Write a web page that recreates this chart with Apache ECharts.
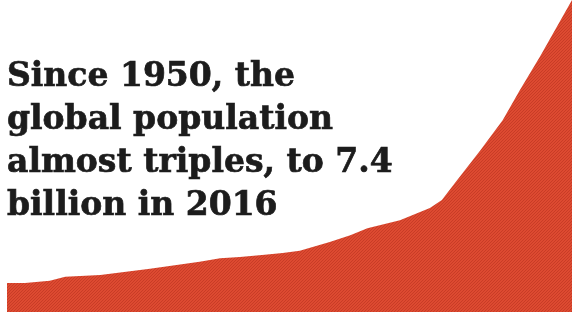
<!DOCTYPE html>
<html>
<head>
<meta charset="utf-8">
<script src="https://cdn.jsdelivr.net/npm/echarts@6/dist/echarts.min.js"></script>
<style>
  html, body { margin: 0; padding: 0; background: #fff; }
  #chart { width: 573px; height: 313px; }
</style>
</head>
<body>
<div id="chart"></div>
<script>
// values (world population, billions, shape of the red area)
const years = [1950, 1952.1, 1955.0, 1956.8, 1960.9, 1966.7, 1972.5, 1974.9, 1977.2, 1980.1,
  1982.2, 1984.2, 1987.7, 1990.1, 1992.1, 1995.9, 1999.4, 2000.8, 2002.3, 2005.3,
  2007.9, 2009.9, 2012.3, 2016];
const population = [2.50, 2.50, 2.54, 2.61, 2.64, 2.75, 2.87, 2.93, 2.95, 2.99,
  3.02, 3.06, 3.21, 3.33, 3.45, 3.59, 3.80, 3.94, 4.23, 4.80,
  5.32, 5.84, 6.43, 7.40];
const headline = ['Since 1950, the', 'global population', 'almost triples, to 7.4', 'billion in 2016'];

// hatched red fill
const makeHatch = () => {
  const c = document.createElement('canvas');
  c.width = 6; c.height = 6;
  const ctx = c.getContext('2d');
  ctx.fillStyle = '#dd4a31';
  ctx.fillRect(0, 0, 6, 6);
  ctx.fillStyle = '#c83c26';
  for (let i = 0; i < 6; i++) {
    for (let j = 0; j < 6; j++) {
      if ((i + j) % 3 === 0) ctx.fillRect(i, j, 1, 1);
    }
  }
  return c;
};

const myChart = echarts.init(document.getElementById('chart'));

const option = {
  animation: false,
  grid: { left: 7, right: 1, top: 0, bottom: 1 },
  title: {
    text: headline.join('\n'),
    left: 7,
    top: 56,
    padding: 0,
    textStyle: {
      fontFamily: 'DejaVu Serif',
      fontWeight: 'bold',
      fontSize: 33,
      lineHeight: 43,
      color: '#1c1c1c',
      textBorderColor: '#1c1c1c',
      textBorderWidth: 0.7
    }
  },
  xAxis: { type: 'value', min: 1950, max: 2016, show: false },
  yAxis: { type: 'value', min: 2, max: 7.4, show: false },
  series: [
    {
      type: 'line',
      data: years.map((y, i) => [y, population[i]]),
      symbol: 'none',
      lineStyle: { width: 0 },
      areaStyle: {
        color: { image: makeHatch(), repeat: 'repeat' },
        opacity: 1
      }
    }
  ]
};

myChart.setOption(option);
</script>
</body>
</html>
